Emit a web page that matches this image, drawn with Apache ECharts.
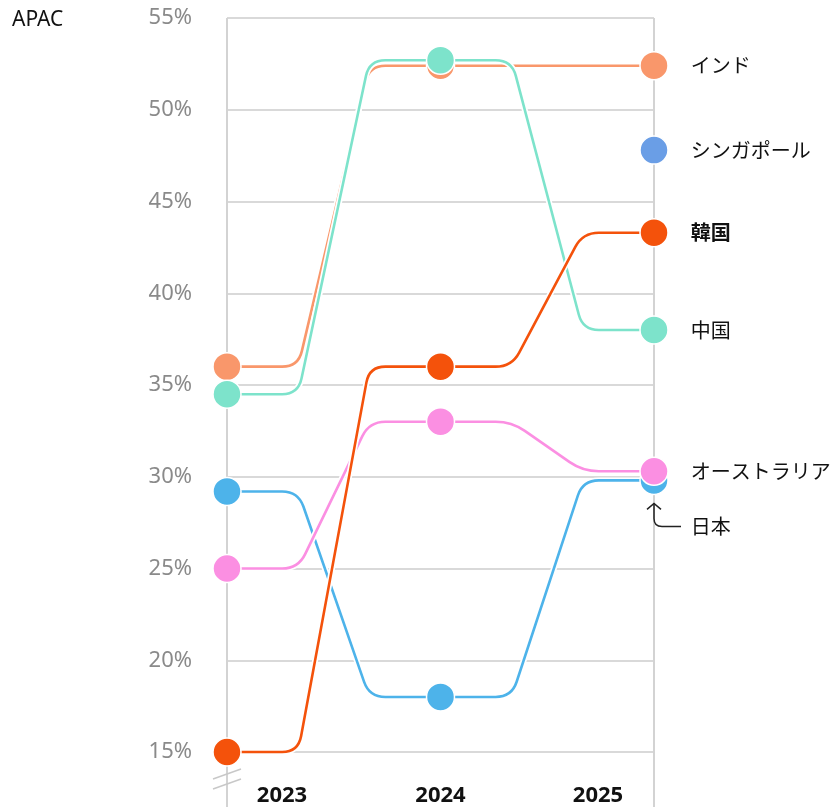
<!DOCTYPE html>
<html><head><meta charset="utf-8">
<script src="https://cdn.jsdelivr.net/npm/echarts@6/dist/echarts.min.js"></script>
<style>html,body{margin:0;padding:0;background:#fff}#c{width:839px;height:807px}</style>
</head><body><div id="c"></div>
<script>
// ---- data ----
const years = ['2023', '2024', '2025'];
const yMin = 15, yMax = 55, yStep = 5;
const names = ['日本', 'オーストラリア', 'インド', '中国', 'シンガポール', '韓国'];
const japan = [29.2, 18.0, 29.8];
const australia = [25.0, 33.0, 30.3];
const india = [36.0, 52.4, 52.4];
const china = [34.5, 52.7, 38.0];
const singapore = [null, null, 47.8];
const korea = [15.0, 36.0, 43.3];
const values = [japan, australia, india, china, singapore, korea];
const colors = ['#4DB3EA', '#FB8FE2', '#F9976B', '#7DE3CB', '#6A9EE6', '#F4520B'];
const boldLabel = ['韓国'];

const JP = '"Noto Sans CJK JP", "Noto Sans", sans-serif';
const chart = echarts.init(document.getElementById('c'), null, {renderer: 'canvas'});

function segPath(p0, p1) {
  const W = p1[0] - p0[0], A = W / 3;
  const S = [p0[0] + A, p0[1]], E = [p1[0] - A, p1[1]];
  const dx = E[0] - S[0], dy = E[1] - S[1];
  const L = Math.sqrt(dx * dx + dy * dy);
  const r = Math.min(16, L / 2);
  const ux = dx / L, uy = dy / L;
  return 'M' + p0[0] + ',' + p0[1] +
    'L' + (S[0] - r) + ',' + S[1] +
    'Q' + S[0] + ',' + S[1] + ' ' + (S[0] + ux * r) + ',' + (S[1] + uy * r) +
    'L' + (E[0] - ux * r) + ',' + (E[1] - uy * r) +
    'Q' + E[0] + ',' + E[1] + ' ' + (E[0] + r) + ',' + E[1] +
    'L' + p1[0] + ',' + p1[1];
}

const frameSeries = {
  type: 'custom', silent: true, z: 1,
  data: [[0, yMax], [years.length - 1, yMax]],
  encode: {x: 0, y: 1},
  renderItem: function (params, api) {
    const p = api.coord([api.value(0), api.value(1)]);
    const H = api.getHeight();
    const children = [{
      type: 'line', shape: {x1: p[0], y1: p[1], x2: p[0], y2: H},
      style: {stroke: '#d3d3d3', lineWidth: 2}
    }];
    if (params.dataIndex === 0) {
      const b = api.coord([0, yMin]);
      [22, 32].forEach(function (dy) {
        children.push({type: 'line', shape: {x1: b[0] - 14, y1: b[1] + dy + 5, x2: b[0] + 14, y2: b[1] + dy - 5},
          style: {stroke: '#c8c8c8', lineWidth: 1.5}});
      });
    }
    return {type: 'group', children: children};
  }
};

const lineSeries = {
  type: 'custom', silent: true, z: 3,
  data: values.map(function (v, i) { return [0, v[0] == null ? yMax : v[0], i]; }),
  encode: {x: 0, y: 1},
  renderItem: function (params, api) {
    const i = api.value(2);
    const v = values[i];
    const children = [];
    for (let k = 0; k < v.length - 1; k++) {
      if (v[k] == null || v[k + 1] == null) continue;
      const d = segPath(api.coord([k, v[k]]), api.coord([k + 1, v[k + 1]]));
      children.push({type: 'path', shape: {pathData: d}, style: {fill: 'none', stroke: '#fff', lineWidth: 6}});
      children.push({type: 'path', shape: {pathData: d}, style: {fill: 'none', stroke: colors[i], lineWidth: 2.6}});
    }
    if (names[i] === '日本') {
      const p = api.coord([v.length - 1, v[v.length - 1]]);
      const x = p[0], y = p[1];
      children.push({type: 'path', z2: 50, shape: {pathData:
        'M' + x + ',' + (y + 23) + 'L' + x + ',' + (y + 38) + 'Q' + x + ',' + (y + 46) + ' ' + (x + 8) + ',' + (y + 46) + 'L' + (x + 27) + ',' + (y + 46)},
        style: {fill: 'none', stroke: '#222', lineWidth: 1.5}});
      children.push({type: 'path', z2: 50, shape: {pathData:
        'M' + (x - 7) + ',' + (y + 29) + 'L' + x + ',' + (y + 23) + 'L' + (x + 7) + ',' + (y + 29)},
        style: {fill: 'none', stroke: '#222', lineWidth: 1.5}});
    }
    return {type: 'group', children: children};
  }
};

const pointSeries = values.map(function (v, i) {
  const last = v.length - 1;
  return {
    type: 'scatter', name: names[i], z: 5 + i,
    symbol: 'circle', symbolSize: 28,
    itemStyle: {color: colors[i], borderColor: '#fff', borderWidth: 1.5, opacity: 1},
    data: v.map(function (val, k) {
      if (k !== last) return val;
      return {
        value: val,
        label: {
          show: true, position: 'right', distance: 22,
          offset: names[i] === '日本' ? [0, 46] : [0, 0],
          formatter: names[i], color: '#111', fontSize: 20, fontFamily: JP,
          fontWeight: boldLabel.indexOf(names[i]) >= 0 ? 'bold' : 'normal'
        }
      };
    })
  };
});

const xLabelStyle = {fontSize: 22, fontWeight: 'bold', color: '#111', fontFamily: '"Noto Sans", sans-serif'};

chart.setOption({
  animation: false,
  backgroundColor: '#fff',
  title: {text: 'APAC', left: 12, top: 10, padding: 0,
    textStyle: {fontSize: 21, fontWeight: 'normal', color: '#111', fontFamily: '"Noto Sans", sans-serif'}},
  grid: {left: 227, right: 185, top: 18, bottom: 53, containLabel: false},
  xAxis: {
    type: 'category', data: years, boundaryGap: false,
    axisLine: {show: false}, axisTick: {show: false}, splitLine: {show: false},
    axisLabel: {
      margin: 33, interval: 0,
      formatter: function (v, idx) {
        if (idx === 0) return '{first|' + v + '}';
        if (idx === years.length - 1) return '{last|' + v + '}';
        return '{mid|' + v + '}';
      },
      rich: {
        first: Object.assign({padding: [0, 0, 0, 110]}, xLabelStyle),
        mid: Object.assign({}, xLabelStyle),
        last: Object.assign({padding: [0, 112, 0, 0]}, xLabelStyle)
      }
    }
  },
  yAxis: {
    type: 'value', min: yMin, max: yMax, interval: yStep,
    axisLine: {show: false}, axisTick: {show: false},
    splitLine: {lineStyle: {color: '#d9d9d9', width: 2}},
    axisLabel: {margin: 35, fontSize: 22, color: '#8a8a8a', fontFamily: '"Noto Sans", sans-serif',
      formatter: function (v) { return v + '%'; }}
  },
  series: [frameSeries, lineSeries].concat(pointSeries)
});
</script>
</body></html>
